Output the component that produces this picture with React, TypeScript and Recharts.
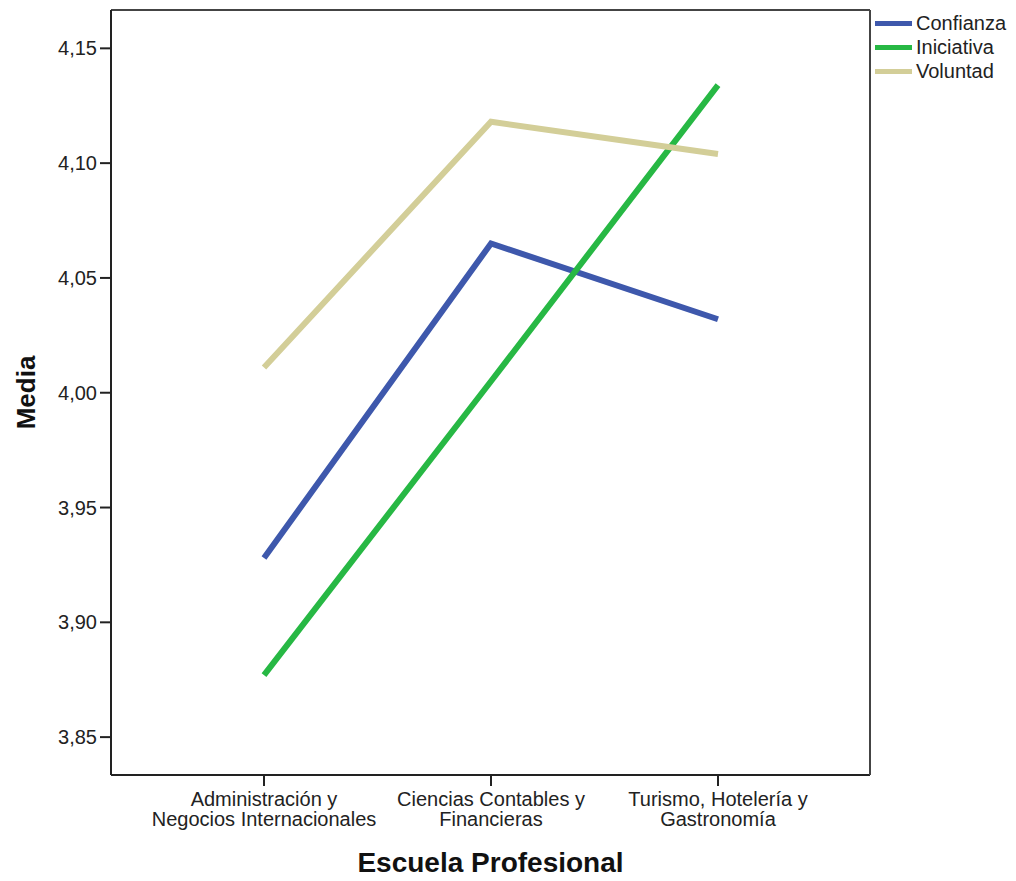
import React from 'react';
import { LineChart, Line, XAxis, YAxis, Label } from 'recharts';

// Escuela Profesional categories (line break = tick label break)
const categories = [
  'Administración y\nNegocios Internacionales',
  'Ciencias Contables y\nFinancieras',
  'Turismo, Hotelería y\nGastronomía',
];

// Media values
const confianza = [3.928, 4.065, 4.032];
const iniciativa = [3.877, 4.005, 4.134];
const voluntad = [4.011, 4.118, 4.104];

const yTicks = [3.85, 3.9, 3.95, 4.0, 4.05, 4.1, 4.15];

const seriesInfo = [
  { key: 'Confianza', color: '#3e58ac' },
  { key: 'Iniciativa', color: '#27b844' },
  { key: 'Voluntad', color: '#d3ce98' },
];

const data = categories.map((name, i) => ({
  name,
  Confianza: confianza[i],
  Iniciativa: iniciativa[i],
  Voluntad: voluntad[i],
}));

const FONT = '"Liberation Sans", Arial, sans-serif';

const CategoryTick = (props: any) => {
  const { x, y, payload } = props;
  const lines = String(payload.value).split('\n');
  return (
    <text x={x} y={y} textAnchor="middle" fill="#222" fontSize={20} fontFamily={FONT}>
      {lines.map((l, i) => (
        <tspan key={i} x={x} dy={i === 0 ? '0.8em' : '1.0em'}>
          {l}
        </tspan>
      ))}
    </text>
  );
};

const MediaLabel = (props: any) => {
  const { viewBox } = props;
  const cx = viewBox.x + 26;
  const cy = viewBox.y + viewBox.height / 2;
  return (
    <text
      x={cx}
      y={cy}
      transform={`rotate(-90, ${cx}, ${cy})`}
      textAnchor="middle"
      dominantBaseline="central"
      fontSize={26}
      fontWeight="bold"
      fontFamily={FONT}
      fill="#111"
    >
      Media
    </text>
  );
};

export default function App() {
  return (
    <div style={{ position: 'relative', width: 1016, height: 881, background: '#fff' }}>
      <style>{'body{margin:0;}'}</style>
      <LineChart
        width={1016}
        height={881}
        data={data}
        margin={{ top: 9, right: 145, bottom: 0, left: 0 }}
      >
        <XAxis
          dataKey="name"
          type="category"
          height={106}
          padding={{ left: 153, right: 152 }}
          tick={<CategoryTick />}
          tickSize={11}
          tickMargin={4}
          interval={0}
          stroke="#222"
          axisLine={{ stroke: '#222', strokeWidth: 2 }}
          tickLine={{ stroke: '#222', strokeWidth: 2 }}
        >
          <Label
            value="Escuela Profesional"
            position="insideBottom"
            offset={9}
            style={{ fontSize: 28, fontWeight: 'bold', fontFamily: FONT, fill: '#111' }}
          />
        </XAxis>
        <XAxis
          xAxisId="top"
          dataKey="name"
          orientation="top"
          height={1}
          tick={false}
          tickLine={false}
          axisLine={{ stroke: '#444', strokeWidth: 2 }}
        />
        <YAxis
          width={111}
          domain={[3.8335, 4.1667]}
          ticks={yTicks}
          allowDataOverflow
          tickSize={11}
          tickMargin={3}
          tickFormatter={(v: number) => v.toFixed(2).replace('.', ',')}
          tick={{ fontSize: 20, fontFamily: FONT, fill: '#222' }}
          axisLine={{ stroke: '#222', strokeWidth: 2 }}
          tickLine={{ stroke: '#222', strokeWidth: 2 }}
        >
          <Label content={<MediaLabel />} />
        </YAxis>
        <YAxis
          yAxisId="right"
          orientation="right"
          width={1}
          tick={false}
          tickLine={false}
          axisLine={{ stroke: '#444', strokeWidth: 2 }}
        />
        {seriesInfo.map((s) => (
          <Line
            key={s.key}
            dataKey={s.key}
            type="linear"
            stroke={s.color}
            strokeWidth={6}
            strokeLinecap="butt"
            strokeLinejoin="miter"
            dot={false}
            activeDot={false}
            isAnimationActive={false}
          />
        ))}
      </LineChart>
      {/* legend sits outside the plot frame, top right */}
      <div
        style={{
          position: 'absolute',
          left: 875,
          top: 11,
          fontFamily: FONT,
          fontSize: 20,
          color: '#222',
        }}
      >
        {seriesInfo.map((s) => (
          <div key={s.key} style={{ display: 'flex', alignItems: 'center', height: 24 }}>
            <span style={{ display: 'inline-block', width: 37, height: 5, background: s.color, marginRight: 4 }} />
            <span>{s.key}</span>
          </div>
        ))}
      </div>
    </div>
  );
}
